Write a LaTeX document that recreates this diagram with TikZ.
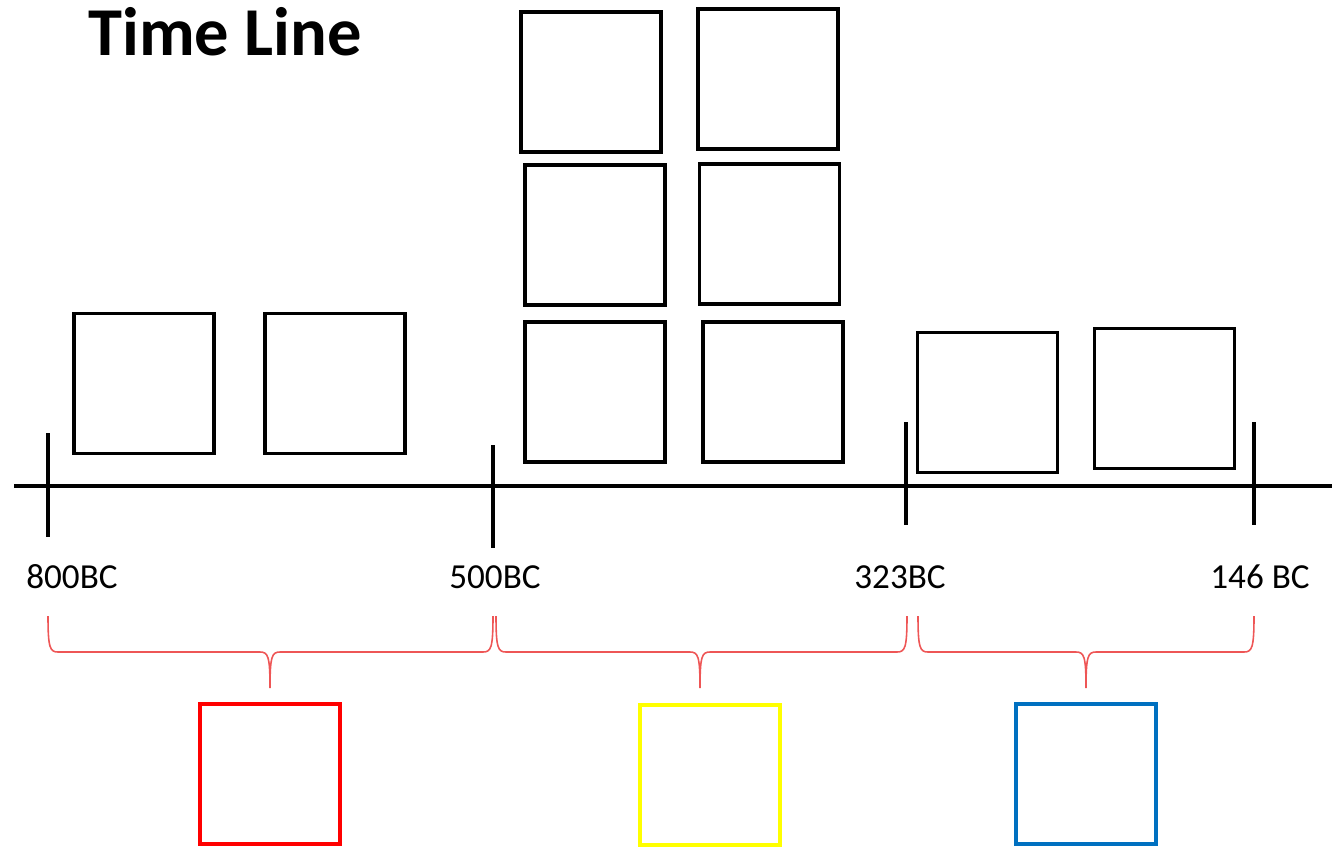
\documentclass[tikz,border=0pt]{standalone}
\usepackage{fontspec}
\setmainfont{Carlito}
\usepackage{tikz}

\definecolor{bracered}{RGB}{238,86,86}
\definecolor{greekred}{RGB}{255,0,0}
\definecolor{greekyellow}{RGB}{255,255,0}
\definecolor{greekblue}{RGB}{0,112,192}

\begin{document}
\begin{tikzpicture}[x=0.02cm,y=-0.02cm,
  eventbox/.style={shape=rectangle,minimum size=2.8cm,inner sep=0pt,draw,line width=2pt},
  periodbox/.style={eventbox,draw=#1},
  date/.style={font=\fontsize{20}{22}\selectfont,inner sep=0pt}]
\useasboundingbox (0,0) rectangle (1332,849);
%[title] 
\path (225,32) node (title) [font=\fontsize{39}{42}\selectfont\bfseries] {Time Line};

% axis and ticks
\path (14,486) coordinate (axisl);
\path (1332,486) coordinate (axisr);
\draw [line width=2pt] (axisl) to (axisr);
\foreach \x/\t/\b in {48/433/537,493/445/548,906/422/525,1254/422/525}
  \draw [line width=2pt] (\x,\t) -- (\x,\b);

\path (72,577) node (d800) [date] {800BC};
\path (495,577) node (d500) [date] {500BC};
\path (900,577) node (d323) [date] {323BC};
\path (1260,577) node (d146) [date] {146 BC};

% events
\path (144,383.5) node (ev1) [eventbox] {};
\path (335,383.5) node (ev2) [eventbox] {};
\path (595,392) node (ev3) [eventbox] {};
\path (773,392) node (ev4) [eventbox] {};
\path (595,235) node (ev5) [eventbox] {};
\path (769.5,234) node (ev6) [eventbox] {};
\path (591,82) node (ev7) [eventbox] {};
\path (768,79) node (ev8) [eventbox] {};
\path (987.5,402.5) node (ev9) [eventbox] {};
\path (1164.5,398.5) node (ev10) [eventbox] {};

% periods
\foreach \a/\m/\b in {48/270/493,496/700/907,918/1086/1254}
  \draw [bracered,line width=0.9pt]
    (\a,616) .. controls (\a,648) and (\a+2,652) .. (\a+10,652) -- (\m-10,652)
    .. controls (\m-2,652) and (\m,656) .. (\m,688)
    .. controls (\m,656) and (\m+2,652) .. (\m+10,652) -- (\b-10,652)
    .. controls (\b-2,652) and (\b,648) .. (\b,616);

\path (270,774) node (archaic) [periodbox=greekred] {};
\path (710,775) node (classical) [periodbox=greekyellow] {};
\path (1086,774) node (hellenistic) [periodbox=greekblue] {};
\end{tikzpicture}
\end{document}
